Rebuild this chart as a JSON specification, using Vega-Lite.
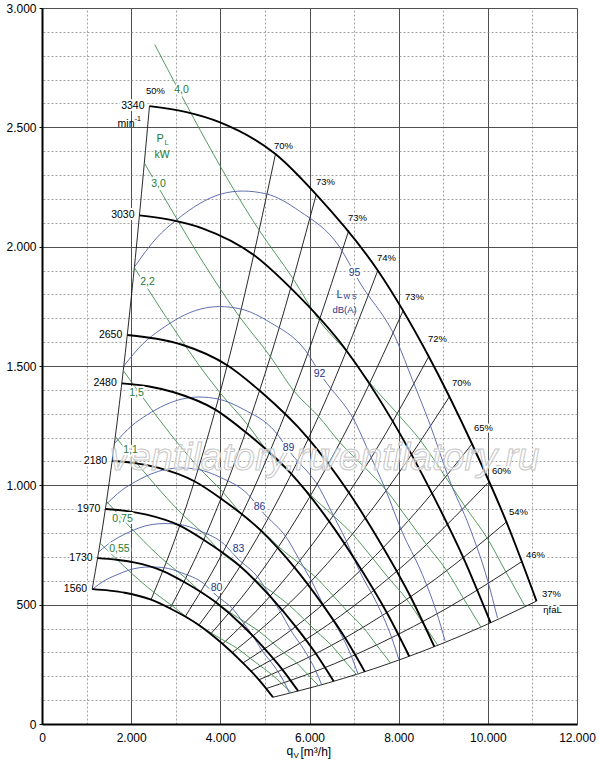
{
  "$schema": "https://vega.github.io/schema/vega-lite/v6.json",
  "description": "Fan performance chart: pressure over air volume with speed, efficiency, power and noise lines",
  "width": 535,
  "height": 716,
  "autosize": {"type": "none"},
  "padding": {"left": 42, "top": 8, "right": 23, "bottom": 39},
  "background": "white",
  "config": {
    "view": {"stroke": null},
    "font": "Liberation Sans",
    "locale": {"number": {"decimal": ",", "thousands": ".", "grouping": [3], "currency": ["", " €"]}}
  },
  "datasets": {
    "speed": [
      {"n": "3340", "q": 2411, "p": 2589}, {"n": "3340", "q": 3241, "p": 2564}, {"n": "3340", "q": 3981, "p": 2522}, {"n": "3340", "q": 5237, "p": 2388}, {"n": "3340", "q": 6157, "p": 2217}, {"n": "3340", "q": 7525, "p": 1902}, {"n": "3340", "q": 8669, "p": 1542}, {"n": "3340", "q": 9656, "p": 1169}, {"n": "3340", "q": 10419, "p": 846}, {"n": "3340", "q": 11092, "p": 515},
      {"n": "3030", "q": 2187, "p": 2131}, {"n": "3030", "q": 2940, "p": 2110}, {"n": "3030", "q": 3612, "p": 2076}, {"n": "3030", "q": 4751, "p": 1965}, {"n": "3030", "q": 5586, "p": 1825}, {"n": "3030", "q": 6827, "p": 1565}, {"n": "3030", "q": 7865, "p": 1269}, {"n": "3030", "q": 8760, "p": 962}, {"n": "3030", "q": 9452, "p": 696}, {"n": "3030", "q": 10063, "p": 424},
      {"n": "2650", "q": 1913, "p": 1630}, {"n": "2650", "q": 2571, "p": 1614}, {"n": "2650", "q": 3159, "p": 1588}, {"n": "2650", "q": 4155, "p": 1503}, {"n": "2650", "q": 4885, "p": 1396}, {"n": "2650", "q": 5970, "p": 1197}, {"n": "2650", "q": 6878, "p": 971}, {"n": "2650", "q": 7661, "p": 736}, {"n": "2650", "q": 8266, "p": 533}, {"n": "2650", "q": 8800, "p": 324},
      {"n": "2480", "q": 1790, "p": 1427}, {"n": "2480", "q": 2406, "p": 1414}, {"n": "2480", "q": 2956, "p": 1390}, {"n": "2480", "q": 3888, "p": 1317}, {"n": "2480", "q": 4572, "p": 1222}, {"n": "2480", "q": 5587, "p": 1049}, {"n": "2480", "q": 6437, "p": 850}, {"n": "2480", "q": 7170, "p": 644}, {"n": "2480", "q": 7736, "p": 466}, {"n": "2480", "q": 8236, "p": 284},
      {"n": "2180", "q": 1574, "p": 1103}, {"n": "2180", "q": 2115, "p": 1092}, {"n": "2180", "q": 2598, "p": 1074}, {"n": "2180", "q": 3418, "p": 1017}, {"n": "2180", "q": 4019, "p": 944}, {"n": "2180", "q": 4912, "p": 810}, {"n": "2180", "q": 5658, "p": 657}, {"n": "2180", "q": 6302, "p": 498}, {"n": "2180", "q": 6800, "p": 360}, {"n": "2180", "q": 7240, "p": 219},
      {"n": "1970", "q": 1422, "p": 901}, {"n": "1970", "q": 1912, "p": 892}, {"n": "1970", "q": 2348, "p": 877}, {"n": "1970", "q": 3089, "p": 831}, {"n": "1970", "q": 3631, "p": 771}, {"n": "1970", "q": 4438, "p": 662}, {"n": "1970", "q": 5113, "p": 536}, {"n": "1970", "q": 5695, "p": 407}, {"n": "1970", "q": 6145, "p": 294}, {"n": "1970", "q": 6542, "p": 179},
      {"n": "1730", "q": 1249, "p": 695}, {"n": "1730", "q": 1679, "p": 688}, {"n": "1730", "q": 2062, "p": 677}, {"n": "1730", "q": 2713, "p": 641}, {"n": "1730", "q": 3189, "p": 595}, {"n": "1730", "q": 3898, "p": 510}, {"n": "1730", "q": 4491, "p": 414}, {"n": "1730", "q": 5002, "p": 314}, {"n": "1730", "q": 5397, "p": 227}, {"n": "1730", "q": 5746, "p": 138},
      {"n": "1560", "q": 1126, "p": 565}, {"n": "1560", "q": 1514, "p": 559}, {"n": "1560", "q": 1860, "p": 550}, {"n": "1560", "q": 2446, "p": 521}, {"n": "1560", "q": 2876, "p": 484}, {"n": "1560", "q": 3515, "p": 415}, {"n": "1560", "q": 4049, "p": 336}, {"n": "1560", "q": 4510, "p": 255}, {"n": "1560", "q": 4867, "p": 185}, {"n": "1560", "q": 5181, "p": 112}
    ],
    "eff": [
      {"e": "R01", "q": 1126, "p": 565}, {"e": "R01", "q": 1398, "p": 871}, {"e": "R01", "q": 1688, "p": 1269}, {"e": "R01", "q": 2049, "p": 1871}, {"e": "R01", "q": 2411, "p": 2589},
      {"e": "R02", "q": 2446, "p": 521}, {"e": "R02", "q": 3037, "p": 803}, {"e": "R02", "q": 3666, "p": 1170}, {"e": "R02", "q": 4451, "p": 1725}, {"e": "R02", "q": 5237, "p": 2388},
      {"e": "R03", "q": 2873, "p": 484}, {"e": "R03", "q": 3567, "p": 746}, {"e": "R03", "q": 4305, "p": 1087}, {"e": "R03", "q": 5228, "p": 1603}, {"e": "R03", "q": 6150, "p": 2218},
      {"e": "R04", "q": 3215, "p": 451}, {"e": "R04", "q": 3992, "p": 696}, {"e": "R04", "q": 4817, "p": 1014}, {"e": "R04", "q": 5850, "p": 1495}, {"e": "R04", "q": 6882, "p": 2069},
      {"e": "R05", "q": 3518, "p": 414}, {"e": "R05", "q": 4369, "p": 639}, {"e": "R05", "q": 5272, "p": 931}, {"e": "R05", "q": 6402, "p": 1373}, {"e": "R05", "q": 7532, "p": 1900},
      {"e": "R06", "q": 3787, "p": 378}, {"e": "R06", "q": 4703, "p": 584}, {"e": "R06", "q": 5676, "p": 850}, {"e": "R06", "q": 6892, "p": 1254}, {"e": "R06", "q": 8108, "p": 1735},
      {"e": "R07", "q": 4053, "p": 336}, {"e": "R07", "q": 5032, "p": 518}, {"e": "R07", "q": 6073, "p": 755}, {"e": "R07", "q": 7375, "p": 1113}, {"e": "R07", "q": 8676, "p": 1540},
      {"e": "R08", "q": 4269, "p": 299}, {"e": "R08", "q": 5301, "p": 462}, {"e": "R08", "q": 6398, "p": 672}, {"e": "R08", "q": 7769, "p": 991}, {"e": "R08", "q": 9140, "p": 1372},
      {"e": "R09", "q": 4509, "p": 256}, {"e": "R09", "q": 5598, "p": 395}, {"e": "R09", "q": 6756, "p": 576}, {"e": "R09", "q": 8204, "p": 849}, {"e": "R09", "q": 9652, "p": 1175},
      {"e": "R10", "q": 4671, "p": 220}, {"e": "R10", "q": 5799, "p": 340}, {"e": "R10", "q": 6999, "p": 495}, {"e": "R10", "q": 8499, "p": 730}, {"e": "R10", "q": 9999, "p": 1010},
      {"e": "R11", "q": 4864, "p": 185}, {"e": "R11", "q": 6040, "p": 285}, {"e": "R11", "q": 7290, "p": 415}, {"e": "R11", "q": 8852, "p": 611}, {"e": "R11", "q": 10414, "p": 846},
      {"e": "R12", "q": 5021, "p": 148}, {"e": "R12", "q": 6235, "p": 228}, {"e": "R12", "q": 7525, "p": 333}, {"e": "R12", "q": 9138, "p": 491}, {"e": "R12", "q": 10750, "p": 679},
      {"e": "R13", "q": 5181, "p": 112}, {"e": "R13", "q": 6433, "p": 173}, {"e": "R13", "q": 7764, "p": 252}, {"e": "R13", "q": 9428, "p": 372}, {"e": "R13", "q": 11092, "p": 515}
    ],
    "power": [
      {"k": "4,0", "q": 2528, "p": 2847}, {"k": "4,0", "q": 4874, "p": 2068}, {"k": "4,0", "q": 5638, "p": 1864}, {"k": "4,0", "q": 6221, "p": 1690}, {"k": "4,0", "q": 6827, "p": 1561}, {"k": "4,0", "q": 7357, "p": 1429}, {"k": "4,0", "q": 7972, "p": 1300}, {"k": "4,0", "q": 8498, "p": 1186}, {"k": "4,0", "q": 9054, "p": 1034}, {"k": "4,0", "q": 9493, "p": 910}, {"k": "4,0", "q": 9989, "p": 778}, {"k": "4,0", "q": 10408, "p": 636}, {"k": "4,0", "q": 10837, "p": 492},
      {"k": "3,0", "q": 2297, "p": 2350}, {"k": "3,0", "q": 4428, "p": 1707}, {"k": "3,0", "q": 5123, "p": 1539}, {"k": "3,0", "q": 5651, "p": 1395}, {"k": "3,0", "q": 6203, "p": 1289}, {"k": "3,0", "q": 6685, "p": 1179}, {"k": "3,0", "q": 7244, "p": 1074}, {"k": "3,0", "q": 7722, "p": 979}, {"k": "3,0", "q": 8225, "p": 853}, {"k": "3,0", "q": 8625, "p": 752}, {"k": "3,0", "q": 9076, "p": 643}, {"k": "3,0", "q": 9456, "p": 525}, {"k": "3,0", "q": 9846, "p": 406},
      {"k": "2,2", "q": 2072, "p": 1912}, {"k": "2,2", "q": 3993, "p": 1388}, {"k": "2,2", "q": 4620, "p": 1252}, {"k": "2,2", "q": 5096, "p": 1134}, {"k": "2,2", "q": 5594, "p": 1048}, {"k": "2,2", "q": 6028, "p": 959}, {"k": "2,2", "q": 6532, "p": 873}, {"k": "2,2", "q": 6963, "p": 796}, {"k": "2,2", "q": 7418, "p": 694}, {"k": "2,2", "q": 7776, "p": 611}, {"k": "2,2", "q": 8183, "p": 522}, {"k": "2,2", "q": 8528, "p": 427}, {"k": "2,2", "q": 8878, "p": 330},
      {"k": "1,5", "q": 1823, "p": 1481}, {"k": "1,5", "q": 3514, "p": 1075}, {"k": "1,5", "q": 4066, "p": 970}, {"k": "1,5", "q": 4486, "p": 879}, {"k": "1,5", "q": 4924, "p": 812}, {"k": "1,5", "q": 5306, "p": 743}, {"k": "1,5", "q": 5750, "p": 676}, {"k": "1,5", "q": 6128, "p": 617}, {"k": "1,5", "q": 6529, "p": 538}, {"k": "1,5", "q": 6844, "p": 473}, {"k": "1,5", "q": 7203, "p": 405}, {"k": "1,5", "q": 7505, "p": 331}, {"k": "1,5", "q": 7815, "p": 256},
      {"k": "1,1", "q": 1644, "p": 1204}, {"k": "1,1", "q": 3169, "p": 875}, {"k": "1,1", "q": 3667, "p": 789}, {"k": "1,1", "q": 4045, "p": 715}, {"k": "1,1", "q": 4439, "p": 660}, {"k": "1,1", "q": 4785, "p": 604}, {"k": "1,1", "q": 5185, "p": 550}, {"k": "1,1", "q": 5526, "p": 501}, {"k": "1,1", "q": 5887, "p": 437}, {"k": "1,1", "q": 6172, "p": 385}, {"k": "1,1", "q": 6496, "p": 329}, {"k": "1,1", "q": 6768, "p": 269}, {"k": "1,1", "q": 7048, "p": 208},
      {"k": "0,75", "q": 1447, "p": 933}, {"k": "0,75", "q": 2789, "p": 677}, {"k": "0,75", "q": 3227, "p": 611}, {"k": "0,75", "q": 3560, "p": 554}, {"k": "0,75", "q": 3908, "p": 511}, {"k": "0,75", "q": 4211, "p": 468}, {"k": "0,75", "q": 4563, "p": 426}, {"k": "0,75", "q": 4864, "p": 389}, {"k": "0,75", "q": 5181, "p": 339}, {"k": "0,75", "q": 5433, "p": 298}, {"k": "0,75", "q": 5717, "p": 255}, {"k": "0,75", "q": 5957, "p": 208}, {"k": "0,75", "q": 6203, "p": 161},
      {"k": "0,55", "q": 1305, "p": 758}, {"k": "0,55", "q": 2516, "p": 551}, {"k": "0,55", "q": 2910, "p": 497}, {"k": "0,55", "q": 3215, "p": 453}, {"k": "0,55", "q": 3523, "p": 416}, {"k": "0,55", "q": 3798, "p": 381}, {"k": "0,55", "q": 4115, "p": 346}, {"k": "0,55", "q": 4387, "p": 316}, {"k": "0,55", "q": 4673, "p": 275}, {"k": "0,55", "q": 4900, "p": 243}, {"k": "0,55", "q": 5156, "p": 207}, {"k": "0,55", "q": 5372, "p": 170}, {"k": "0,55", "q": 5594, "p": 131}
    ],
    "noise": [
      {"L": "95", "q": 2075, "p": 1915}, {"L": "95", "q": 2568, "p": 2036}, {"L": "95", "q": 3017, "p": 2112}, {"L": "95", "q": 4026, "p": 2221}, {"L": "95", "q": 4497, "p": 2233}, {"L": "95", "q": 5036, "p": 2221}, {"L": "95", "q": 5776, "p": 2149}, {"L": "95", "q": 6673, "p": 1999}, {"L": "95", "q": 7121, "p": 1852}, {"L": "95", "q": 7951, "p": 1609}, {"L": "95", "q": 8310, "p": 1441}, {"L": "95", "q": 8691, "p": 1261}, {"L": "95", "q": 9140, "p": 1022}, {"L": "95", "q": 9589, "p": 825}, {"L": "95", "q": 9993, "p": 603}, {"L": "95", "q": 10217, "p": 444},
      {"L": "92", "q": 1836, "p": 1500}, {"L": "92", "q": 2273, "p": 1595}, {"L": "92", "q": 2670, "p": 1654}, {"L": "92", "q": 3563, "p": 1739}, {"L": "92", "q": 3980, "p": 1749}, {"L": "92", "q": 4457, "p": 1739}, {"L": "92", "q": 5112, "p": 1683}, {"L": "92", "q": 5906, "p": 1566}, {"L": "92", "q": 6302, "p": 1450}, {"L": "92", "q": 7037, "p": 1260}, {"L": "92", "q": 7354, "p": 1129}, {"L": "92", "q": 7692, "p": 988}, {"L": "92", "q": 8089, "p": 800}, {"L": "92", "q": 8486, "p": 646}, {"L": "92", "q": 8844, "p": 472}, {"L": "92", "q": 9042, "p": 348},
      {"L": "89", "q": 1625, "p": 1175}, {"L": "89", "q": 2011, "p": 1249}, {"L": "89", "q": 2363, "p": 1296}, {"L": "89", "q": 3153, "p": 1362}, {"L": "89", "q": 3522, "p": 1370}, {"L": "89", "q": 3944, "p": 1362}, {"L": "89", "q": 4524, "p": 1318}, {"L": "89", "q": 5226, "p": 1226}, {"L": "89", "q": 5577, "p": 1136}, {"L": "89", "q": 6227, "p": 987}, {"L": "89", "q": 6508, "p": 884}, {"L": "89", "q": 6807, "p": 774}, {"L": "89", "q": 7158, "p": 627}, {"L": "89", "q": 7510, "p": 506}, {"L": "89", "q": 7827, "p": 370}, {"L": "89", "q": 8002, "p": 272},
      {"L": "86", "q": 1438, "p": 920}, {"L": "86", "q": 1780, "p": 978}, {"L": "86", "q": 2091, "p": 1015}, {"L": "86", "q": 2791, "p": 1067}, {"L": "86", "q": 3117, "p": 1073}, {"L": "86", "q": 3491, "p": 1067}, {"L": "86", "q": 4004, "p": 1033}, {"L": "86", "q": 4626, "p": 961}, {"L": "86", "q": 4936, "p": 890}, {"L": "86", "q": 5512, "p": 773}, {"L": "86", "q": 5761, "p": 692}, {"L": "86", "q": 6025, "p": 606}, {"L": "86", "q": 6336, "p": 491}, {"L": "86", "q": 6647, "p": 396}, {"L": "86", "q": 6927, "p": 290}, {"L": "86", "q": 7082, "p": 213},
      {"L": "83", "q": 1273, "p": 721}, {"L": "83", "q": 1575, "p": 766}, {"L": "83", "q": 1851, "p": 795}, {"L": "83", "q": 2470, "p": 836}, {"L": "83", "q": 2759, "p": 840}, {"L": "83", "q": 3089, "p": 836}, {"L": "83", "q": 3543, "p": 809}, {"L": "83", "q": 4093, "p": 752}, {"L": "83", "q": 4368, "p": 697}, {"L": "83", "q": 4877, "p": 606}, {"L": "83", "q": 5097, "p": 542}, {"L": "83", "q": 5331, "p": 475}, {"L": "83", "q": 5607, "p": 385}, {"L": "83", "q": 5882, "p": 310}, {"L": "83", "q": 6130, "p": 227}, {"L": "83", "q": 6267, "p": 167},
      {"L": "80", "q": 1127, "p": 564}, {"L": "80", "q": 1394, "p": 600}, {"L": "80", "q": 1638, "p": 622}, {"L": "80", "q": 2186, "p": 655}, {"L": "80", "q": 2441, "p": 658}, {"L": "80", "q": 2734, "p": 655}, {"L": "80", "q": 3136, "p": 633}, {"L": "80", "q": 3623, "p": 589}, {"L": "80", "q": 3866, "p": 546}, {"L": "80", "q": 4317, "p": 474}, {"L": "80", "q": 4512, "p": 425}, {"L": "80", "q": 4718, "p": 372}, {"L": "80", "q": 4962, "p": 301}, {"L": "80", "q": 5206, "p": 243}, {"L": "80", "q": 5425, "p": 178}, {"L": "80", "q": 5547, "p": 131}
    ],
    "speedLab": [
      {"t": "3340", "q": 2411, "p": 2589}, {"t": "3030", "q": 2187, "p": 2131}, {"t": "2650", "q": 1913, "p": 1630}, {"t": "2480", "q": 1790, "p": 1427},
      {"t": "2180", "q": 1574, "p": 1103}, {"t": "1970", "q": 1422, "p": 901}, {"t": "1730", "q": 1249, "p": 695}, {"t": "1560", "q": 1126, "p": 565}
    ],
    "effLab": [
      {"t": "50%", "q": 2546, "p": 2652}, {"t": "70%", "q": 5417, "p": 2422}, {"t": "73%", "q": 6359, "p": 2271}, {"t": "73%", "q": 7077, "p": 2120},
      {"t": "74%", "q": 7727, "p": 1953}, {"t": "73%", "q": 8355, "p": 1789}, {"t": "72%", "q": 8871, "p": 1613}, {"t": "70%", "q": 9409, "p": 1429},
      {"t": "65%", "q": 9903, "p": 1240}, {"t": "60%", "q": 10306, "p": 1060}, {"t": "54%", "q": 10687, "p": 888}, {"t": "46%", "q": 11069, "p": 708},
      {"t": "37%", "q": 11428, "p": 545}, {"t": "ηfaL", "q": 11450, "p": 478}
    ],
    "powerLab": [
      {"t": "4,0", "q": 3129, "p": 2656}, {"t": "3,0", "q": 2613, "p": 2263}, {"t": "2,2", "q": 2366, "p": 1852}, {"t": "1,5", "q": 2120, "p": 1387},
      {"t": "1,1", "q": 1985, "p": 1148}, {"t": "0,75", "q": 1806, "p": 859}, {"t": "0,55", "q": 1738, "p": 733}
    ],
    "noiseLab": [
      {"t": "95", "q": 7009, "p": 1890}, {"t": "92", "q": 6224, "p": 1467}, {"t": "89", "q": 5529, "p": 1157},
      {"t": "86", "q": 4879, "p": 909}, {"t": "83", "q": 4408, "p": 733}, {"t": "80", "q": 3914, "p": 570}
    ],
    "mark": [
      {"t": "ventilatory.ru", "q": 3992, "p": 1115}, {"t": "ventilatory.ru", "q": 8689, "p": 1115}
    ],
    "one": [{}]
  },
  "resolve": {"axis": {"x": "independent", "y": "independent"}},
  "layer": [
    {
      "data": {"name": "eff"},
      "mark": {"type": "line", "color": "#111111", "strokeWidth": 0.9, "interpolate": "monotone"},
      "encoding": {
        "x": {
          "field": "q", "type": "quantitative",
          "scale": {"domain": [0, 12000], "nice": false, "zero": false},
          "axis": {"orient": "top", "values": [1000, 3000, 5000, 7000, 9000, 11000], "grid": true, "gridDash": [2, 2], "gridColor": "#8c8c8c", "gridWidth": 0.8, "domain": false, "ticks": false, "labels": false, "title": null}
        },
        "y": {
          "field": "p", "type": "quantitative",
          "scale": {"domain": [0, 3000], "nice": false, "zero": false},
          "axis": {"orient": "right", "values": [100, 200, 300, 400, 600, 700, 800, 900, 1100, 1200, 1300, 1400, 1600, 1700, 1800, 1900, 2100, 2200, 2300, 2400, 2600, 2700, 2800, 2900], "grid": true, "gridDash": [2, 2], "gridColor": "#8c8c8c", "gridWidth": 0.8, "domain": false, "ticks": false, "labels": false, "title": null}
        },
        "detail": {"field": "e"}
      }
    },
    {
      "data": {"name": "power"},
      "mark": {"type": "line", "color": "#3f8f4c", "strokeWidth": 0.9, "interpolate": "monotone"},
      "encoding": {
        "x": {"field": "q", "type": "quantitative", "axis": null},
        "y": {"field": "p", "type": "quantitative", "axis": null},
        "detail": {"field": "k"}
      }
    },
    {
      "data": {"name": "noise"},
      "mark": {"type": "line", "color": "#4e5fa8", "strokeWidth": 0.9, "interpolate": "monotone"},
      "encoding": {
        "x": {"field": "q", "type": "quantitative", "axis": null},
        "y": {"field": "p", "type": "quantitative", "axis": null},
        "detail": {"field": "L"}
      }
    },
    {
      "data": {"name": "speed"},
      "mark": {"type": "line", "color": "#000000", "strokeWidth": 1.9, "interpolate": "monotone"},
      "encoding": {
        "x": {
          "field": "q", "type": "quantitative",
          "axis": {"orient": "bottom", "values": [0, 2000, 4000, 6000, 8000, 10000, 12000], "format": ",.0f", "grid": true, "gridColor": "#4f4f4f", "gridWidth": 1, "domainColor": "#000000", "domainWidth": 2, "ticks": false, "labelPadding": 8, "labelFontSize": 12, "labelColor": "#000000", "labelFlush": false, "title": null}
        },
        "y": {
          "field": "p", "type": "quantitative",
          "axis": {"orient": "left", "values": [0, 500, 1000, 1500, 2000, 2500, 3000], "format": ",.0f", "grid": true, "gridColor": "#4f4f4f", "gridWidth": 1, "domainColor": "#000000", "domainWidth": 2, "tickSize": 3, "tickColor": "#000000", "labelPadding": 3, "labelFontSize": 12, "labelColor": "#000000", "title": null}
        },
        "detail": {"field": "n"}
      }
    },
    {
      "data": {"name": "mark"},
      "mark": {"type": "text", "fontSize": 39, "fontStyle": "italic", "fill": "#ffffff", "fillOpacity": 0.6, "stroke": "#c6c6c6", "strokeWidth": 1, "align": "center", "baseline": "middle"},
      "encoding": {
        "x": {"field": "q", "type": "quantitative", "axis": null},
        "y": {"field": "p", "type": "quantitative", "axis": null},
        "text": {"field": "t"}
      }
    },
    {
      "data": {"name": "effLab"},
      "encoding": {
        "x": {"field": "q", "type": "quantitative", "axis": null},
        "y": {"field": "p", "type": "quantitative", "axis": null},
        "text": {"field": "t"}
      },
      "layer": [
        {"mark": {"type": "text", "fontSize": 9.5, "align": "center", "baseline": "middle", "color": "#ffffff", "stroke": "#ffffff", "strokeWidth": 4, "strokeJoin": "round"}},
        {"mark": {"type": "text", "fontSize": 9.5, "align": "center", "baseline": "middle", "color": "#000000"}}
      ]
    },
    {
      "data": {"name": "speedLab"},
      "encoding": {
        "x": {"field": "q", "type": "quantitative", "axis": null},
        "y": {"field": "p", "type": "quantitative", "axis": null},
        "text": {"field": "t"}
      },
      "layer": [
        {"mark": {"type": "text", "fontSize": 10.5, "align": "right", "baseline": "middle", "dx": -5, "color": "#ffffff", "stroke": "#ffffff", "strokeWidth": 4, "strokeJoin": "round"}},
        {"mark": {"type": "text", "fontSize": 10.5, "align": "right", "baseline": "middle", "dx": -5, "color": "#000000"}}
      ]
    },
    {
      "data": {"name": "powerLab"},
      "encoding": {
        "x": {"field": "q", "type": "quantitative", "axis": null},
        "y": {"field": "p", "type": "quantitative", "axis": null},
        "text": {"field": "t"}
      },
      "layer": [
        {"mark": {"type": "text", "fontSize": 10.5, "align": "center", "baseline": "middle", "color": "#ffffff", "stroke": "#ffffff", "strokeWidth": 4, "strokeJoin": "round"}},
        {"mark": {"type": "text", "fontSize": 10.5, "align": "center", "baseline": "middle", "color": "#1f7a35"}}
      ]
    },
    {
      "data": {"name": "noiseLab"},
      "encoding": {
        "x": {"field": "q", "type": "quantitative", "axis": null},
        "y": {"field": "p", "type": "quantitative", "axis": null},
        "text": {"field": "t"}
      },
      "layer": [
        {"mark": {"type": "text", "fontSize": 10.5, "align": "center", "baseline": "middle", "color": "#ffffff", "stroke": "#ffffff", "strokeWidth": 4, "strokeJoin": "round"}},
        {"mark": {"type": "text", "fontSize": 10.5, "align": "center", "baseline": "middle", "color": "#26358c"}}
      ]
    },
    {
      "data": {"name": "one"},
      "mark": {"type": "text", "fontSize": 11, "align": "left", "baseline": "alphabetic", "color": "#1f7a35"},
      "encoding": {"x": {"datum": 2568, "type": "quantitative", "axis": null}, "y": {"datum": 2439, "type": "quantitative", "axis": null}, "text": {"value": "P"}}
    },
    {
      "data": {"name": "one"},
      "mark": {"type": "text", "fontSize": 7.5, "align": "left", "baseline": "alphabetic", "color": "#1f7a35"},
      "encoding": {"x": {"datum": 2748, "type": "quantitative", "axis": null}, "y": {"datum": 2426, "type": "quantitative", "axis": null}, "text": {"value": "L"}}
    },
    {
      "data": {"name": "one"},
      "mark": {"type": "text", "fontSize": 10.5, "align": "left", "baseline": "alphabetic", "color": "#1f7a35"},
      "encoding": {"x": {"datum": 2523, "type": "quantitative", "axis": null}, "y": {"datum": 2372, "type": "quantitative", "axis": null}, "text": {"value": "kW"}}
    },
    {
      "data": {"name": "one"},
      "mark": {"type": "text", "fontSize": 11, "align": "left", "baseline": "alphabetic", "color": "#26358c"},
      "encoding": {"x": {"datum": 6606, "type": "quantitative", "axis": null}, "y": {"datum": 1785, "type": "quantitative", "axis": null}, "text": {"value": "L"}}
    },
    {
      "data": {"name": "one"},
      "mark": {"type": "text", "fontSize": 7, "align": "left", "baseline": "alphabetic", "color": "#26358c"},
      "encoding": {"x": {"datum": 6763, "type": "quantitative", "axis": null}, "y": {"datum": 1781, "type": "quantitative", "axis": null}, "text": {"value": "W S"}}
    },
    {
      "data": {"name": "one"},
      "mark": {"type": "text", "fontSize": 9.5, "align": "left", "baseline": "alphabetic", "color": "#26358c"},
      "encoding": {"x": {"datum": 6516, "type": "quantitative", "axis": null}, "y": {"datum": 1722, "type": "quantitative", "axis": null}, "text": {"value": "dB(A)"}}
    },
    {
      "data": {"name": "one"},
      "mark": {"type": "text", "fontSize": 10.5, "align": "right", "baseline": "alphabetic", "color": "#000000"},
      "encoding": {"x": {"datum": 2075, "type": "quantitative", "axis": null}, "y": {"datum": 2502, "type": "quantitative", "axis": null}, "text": {"value": "min"}}
    },
    {
      "data": {"name": "one"},
      "mark": {"type": "text", "fontSize": 7, "align": "left", "baseline": "alphabetic", "color": "#000000"},
      "encoding": {"x": {"datum": 2080, "type": "quantitative", "axis": null}, "y": {"datum": 2525, "type": "quantitative", "axis": null}, "text": {"value": "-1"}}
    },
    {
      "data": {"name": "one"},
      "mark": {"type": "text", "fontSize": 12, "align": "left", "baseline": "alphabetic", "color": "#000000"},
      "encoding": {"x": {"datum": 5484, "type": "quantitative", "axis": null}, "y": {"datum": -130, "type": "quantitative", "axis": null}, "text": {"value": "q"}}
    },
    {
      "data": {"name": "one"},
      "mark": {"type": "text", "fontSize": 8, "align": "left", "baseline": "alphabetic", "color": "#000000"},
      "encoding": {"x": {"datum": 5641, "type": "quantitative", "axis": null}, "y": {"datum": -143, "type": "quantitative", "axis": null}, "text": {"value": "V"}}
    },
    {
      "data": {"name": "one"},
      "mark": {"type": "text", "fontSize": 12, "align": "left", "baseline": "alphabetic", "color": "#000000"},
      "encoding": {"x": {"datum": 5798, "type": "quantitative", "axis": null}, "y": {"datum": -134, "type": "quantitative", "axis": null}, "text": {"value": "[m³/h]"}}
    }
  ]
}
